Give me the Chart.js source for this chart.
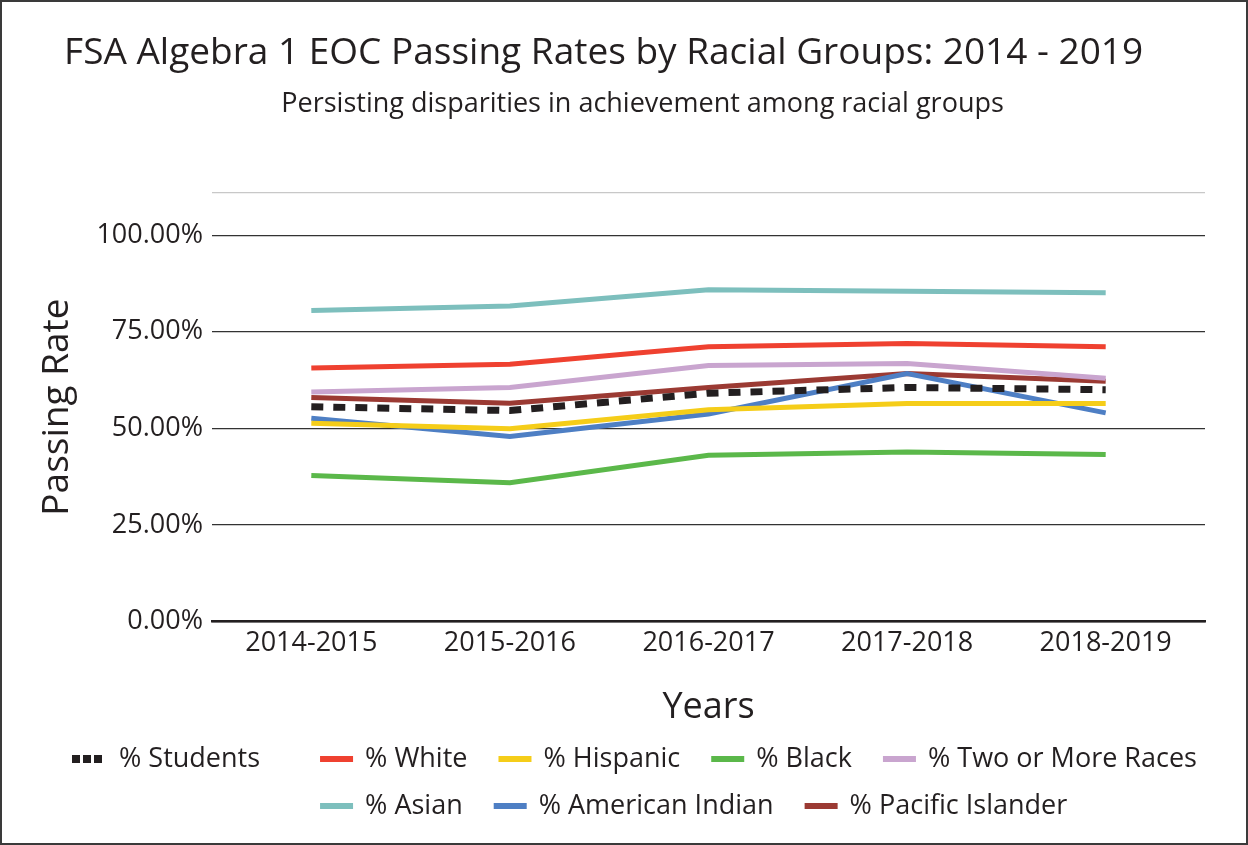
<!DOCTYPE html>
<html>
<head>
<meta charset="utf-8">
<script src="https://cdn.jsdelivr.net/npm/chart.js@4"></script>
<style>
    html, body { margin: 0; padding: 0; background: #fff; }
    #wrap { width: 1248px; height: 845px; box-sizing: border-box; border: 2px solid #3a3a3a; }
    canvas { display: block; }
</style>
</head>
<body>
<div id="wrap"><canvas id="rateChart" width="1244" height="841"></canvas></div>
<script>
// Data (percent)
const years = ['2014-2015', '2015-2016', '2016-2017', '2017-2018', '2018-2019'];
const students = [55.6, 54.6, 59.1, 60.6, 60.0];
const white = [65.6, 66.6, 71.1, 72.0, 71.1];
const hispanic = [51.3, 49.9, 54.8, 56.4, 56.4];
const black = [37.8, 35.9, 43.0, 43.9, 43.2];
const twoOrMore = [59.4, 60.6, 66.3, 66.8, 63.0];
const asian = [80.5, 81.7, 85.9, 85.5, 85.1];
const americanIndian = [52.6, 47.9, 53.7, 64.2, 54.0];
const pacificIslander = [58.0, 56.5, 60.6, 64.2, 62.2];
const yTicks = [0, 25, 50, 75, 100];

const FONT = '"Open Sans", sans-serif';
Chart.defaults.font.family = FONT;
Chart.defaults.color = '#231f20';

function series(label, data, color) {
    return {
        label: label,
        data: data,
        borderColor: color,
        backgroundColor: color,
        borderWidth: 5,
        pointRadius: 0,
        tension: 0
    };
}

const studentsSet = series('% Students', students, '#231f20');
studentsSet.borderDash = [12, 10];
studentsSet.borderWidth = 7;

// legend drawn in two rows; the second row lines up under the second entry
const rowLegend = {
    id: 'rowLegend',
    afterDraw(chart) {
        const c = chart.ctx;
        c.save();
        c.font = '27px ' + FONT;
        c.textBaseline = 'middle';
        let x = 70, y = 757, row2x = x;
        chart.data.datasets.forEach(function(ds, i) {
            if (i === 1) row2x = x;
            if (i === 5) { x = row2x; y = 804; }
            c.fillStyle = ds.borderColor;
            let tx;
            if (ds.borderDash) {
                for (let k = 0; k < 3; k++) c.fillRect(x + k * 11, y - 4, 8, 8);
                tx = x + 47;
            } else {
                c.fillRect(x, y - 3, 33, 6);
                tx = x + 45;
            }
            c.fillStyle = '#231f20';
            c.fillText(ds.label, tx, y);
            x = tx + c.measureText(ds.label).width + (i === 0 ? 60 : 31);
        });
        c.restore();
    }
};

const ctx = document.getElementById('rateChart').getContext('2d');
const rateChart = new Chart(ctx, {
    type: 'line',
    data: {
        labels: years,
        datasets: [
            studentsSet,
            series('% White', white, '#ef4130'),
            series('% Hispanic', hispanic, '#f5cd19'),
            series('% Black', black, '#5bb84a'),
            series('% Two or More Races', twoOrMore, '#c9a5cf'),
            series('% Asian', asian, '#7dbfbd'),
            series('% American Indian', americanIndian, '#4e7fc4'),
            series('% Pacific Islander', pacificIslander, '#9b3a33')
        ]
    },
    plugins: [rowLegend],
    options: {
        responsive: false,
        animation: false,
        layout: { padding: { left: 29, right: 41, top: 10, bottom: 110 } },
        plugins: {
            title: {
                display: true,
                text: 'FSA Algebra 1 EOC Passing Rates by Racial Groups: 2014 - 2019   ',
                font: { size: 37, weight: 'normal' },
                padding: { top: 19, bottom: 13 }
            },
            subtitle: {
                display: true,
                text: '       Persisting disparities in achievement among racial groups',
                font: { size: 27, weight: 'normal' },
                padding: { bottom: 72 }
            },
            legend: { display: false },
            tooltip: { enabled: false }
        },
        scales: {
            x: {
                offset: true,
                grid: { display: false, drawTicks: false },
                border: { color: '#231f20', width: 2.5 },
                ticks: { font: { size: 27 }, padding: 6 },
                title: { display: true, text: 'Years', font: { size: 36 }, padding: { top: 20, bottom: 4 } }
            },
            y: {
                min: 0,
                max: 111,
                afterBuildTicks: function(axis) {
                    axis.ticks = yTicks.concat([111]).map(function(v) { return { value: v }; });
                },
                ticks: {
                    font: { size: 27 },
                    padding: 9,
                    callback: function(v) { return v > 100 ? '' : v.toFixed(2) + '%'; }
                },
                grid: {
                    drawTicks: false,
                    color: function(c) { return c.tick && c.tick.value > 100 ? '#c8c8c8' : '#333'; },
                    lineWidth: 1.2
                },
                border: { display: false },
                title: { display: true, text: 'Passing Rate', font: { size: 37 }, padding: { top: 4, bottom: 8 } }
            }
        }
    }
});
</script>
</body>
</html>
